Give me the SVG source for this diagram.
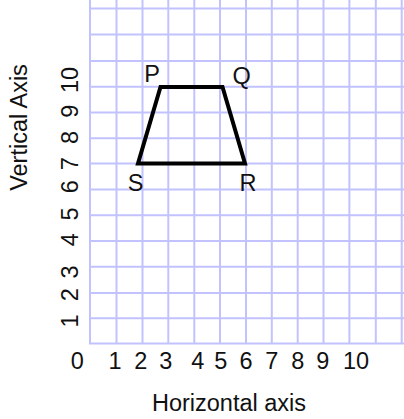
<svg xmlns="http://www.w3.org/2000/svg" width="404" height="419" viewBox="0 0 404 419">
  <style>
    .grid line { stroke: #c2c2ff; stroke-width: 2; }
    .t { font-family: "Liberation Sans", Arial, sans-serif; font-size: 23.5px; fill: #111; text-anchor: middle; }
  </style>
  <rect width="404" height="419" fill="#ffffff"/>
  <g id="grid" class="grid">
    <line x1="90" y1="0" x2="90" y2="344"/>
    <line x1="116.5" y1="0" x2="116.5" y2="344"/>
    <line x1="142.5" y1="0" x2="142.5" y2="344"/>
    <line x1="168.3" y1="0" x2="168.3" y2="344"/>
    <line x1="194.3" y1="0" x2="194.3" y2="344"/>
    <line x1="220" y1="0" x2="220" y2="344"/>
    <line x1="246" y1="0" x2="246" y2="344"/>
    <line x1="271.8" y1="0" x2="271.8" y2="344"/>
    <line x1="297.7" y1="0" x2="297.7" y2="344"/>
    <line x1="323.5" y1="0" x2="323.5" y2="344"/>
    <line x1="349.4" y1="0" x2="349.4" y2="344"/>
    <line x1="375.8" y1="0" x2="375.8" y2="344"/>
    <line x1="401.7" y1="0" x2="401.7" y2="344"/>
    <line x1="89" y1="343.5" x2="404" y2="343.5"/>
    <line x1="90" y1="318.3" x2="404" y2="318.3"/>
    <line x1="90" y1="292.9" x2="404" y2="292.9"/>
    <line x1="90" y1="266.8" x2="404" y2="266.8"/>
    <line x1="90" y1="241.1" x2="404" y2="241.1"/>
    <line x1="90" y1="215.2" x2="404" y2="215.2"/>
    <line x1="90" y1="189.5" x2="404" y2="189.5"/>
    <line x1="90" y1="163.6" x2="404" y2="163.6"/>
    <line x1="90" y1="138.2" x2="404" y2="138.2"/>
    <line x1="90" y1="112.6" x2="404" y2="112.6"/>
    <line x1="90" y1="86.7" x2="404" y2="86.7"/>
    <line x1="90" y1="60.9" x2="404" y2="60.9"/>
    <line x1="90" y1="34.5" x2="404" y2="34.5"/>
    <line x1="90" y1="8.5" x2="404" y2="8.5"/>
  </g>
  <g id="trapezoid">
    <polygon points="160.5,87 222.5,87 245,163.5 138,163.5" fill="none" stroke="#000" stroke-width="4" stroke-linejoin="miter"/>
  </g>
  <g id="vertex-labels" class="t">
    <text x="152" y="81.5">P</text>
    <text x="241.7" y="84">Q</text>
    <text x="248" y="191">R</text>
    <text x="135.5" y="191">S</text>
  </g>
  <g id="x-labels" class="t">
    <text x="77.3" y="368.5">0</text>
    <text x="115" y="368.5">1</text>
    <text x="140.7" y="368.5">2</text>
    <text x="165.7" y="368.5">3</text>
    <text x="197.7" y="368.5">4</text>
    <text x="220.7" y="368.5">5</text>
    <text x="246" y="368.5">6</text>
    <text x="271.7" y="368.5">7</text>
    <text x="297.7" y="368.5">8</text>
    <text x="322.7" y="368.5">9</text>
    <text x="356" y="368.5">10</text>
  </g>
  <g id="y-labels" class="t">
    <text transform="translate(77.5,321) rotate(-90)">1</text>
    <text transform="translate(77.5,294.7) rotate(-90)">2</text>
    <text transform="translate(77.5,272) rotate(-90)">3</text>
    <text transform="translate(77.5,239.7) rotate(-90)">4</text>
    <text transform="translate(77.5,214) rotate(-90)">5</text>
    <text transform="translate(77.5,186.7) rotate(-90)">6</text>
    <text transform="translate(77.5,163.7) rotate(-90)">7</text>
    <text transform="translate(77.5,137.5) rotate(-90)">8</text>
    <text transform="translate(77.5,111.3) rotate(-90)">9</text>
    <text transform="translate(77.5,80) rotate(-90)">10</text>
  </g>
  <g id="axis-titles" class="t">
    <text x="229" y="411">Horizontal axis</text>
    <text transform="translate(27,127.5) rotate(-90)">Vertical Axis</text>
  </g>
</svg>
